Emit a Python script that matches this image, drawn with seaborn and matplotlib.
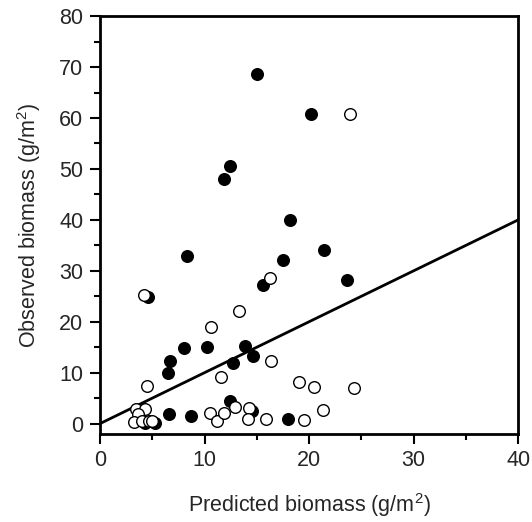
import matplotlib
matplotlib.use("Agg")
import matplotlib.pyplot as plt
import seaborn as sns
import pandas as pd
from matplotlib.ticker import MultipleLocator

# Filled circles
filled_pred = [15.05, 20.17, 12.48, 11.9, 18.14, 8.3, 21.4, 17.5, 15.6, 23.6, 4.6,
               8.05, 10.2, 13.9, 6.65, 6.55, 12.76, 14.6, 12.4, 14.5, 6.6, 8.75,
               18.0, 4.3, 5.3]
filled_obs = [68.7, 60.8, 50.5, 48.1, 40.0, 32.9, 34.1, 32.1, 27.3, 28.1, 24.9,
              14.9, 15.1, 15.3, 12.2, 10.0, 11.9, 13.2, 4.4, 2.4, 1.8, 1.4,
              0.85, 0.1, 0.1]

# Open circles
open_pred = [23.9, 16.26, 4.23, 13.3, 10.57, 11.6, 4.45, 16.4, 19.06, 20.5, 24.3,
             21.3, 12.9, 14.25, 14.16, 15.9, 19.5, 10.5, 11.17, 11.84, 3.47, 4.27,
             3.66, 3.27, 4.0, 4.7, 5.0]
open_obs = [60.8, 28.5, 25.2, 22.2, 18.9, 9.2, 7.3, 12.2, 8.25, 7.1, 6.9,
            2.7, 3.2, 3.1, 0.9, 1.0, 0.7, 2.1, 0.6, 2.0, 2.9, 2.9,
            1.8, 0.3, 0.6, 0.6, 0.45]

# 1:1 line
line_x = [0, 40]
line_y = [0, 40]

sns.set_style("white")
plt.rcParams['font.family'] = ['Liberation Sans', 'DejaVu Sans']

fig = plt.figure(figsize=(5.32, 5.22), dpi=100)
ax = fig.add_axes([0.188, 0.169, 0.786, 0.800])

sns.lineplot(x=line_x, y=line_y, ax=ax, color='black', linewidth=2.0, zorder=2)
sns.scatterplot(x=filled_pred, y=filled_obs, ax=ax, color='black', edgecolor='black',
                s=70, linewidth=1.0, zorder=3)
sns.scatterplot(x=open_pred, y=open_obs, ax=ax, color='white', edgecolor='black',
                s=70, linewidth=1.0, zorder=4)

ax.set_xlim(0, 40)
ax.set_ylim(-2, 80)
ax.xaxis.set_major_locator(MultipleLocator(10))
ax.xaxis.set_minor_locator(MultipleLocator(5))
ax.yaxis.set_major_locator(MultipleLocator(10))
ax.yaxis.set_minor_locator(MultipleLocator(5))
ax.tick_params(which='both', direction='out', left=True, bottom=True, top=False, right=False,
               width=1.5, color='black')
ax.tick_params(which='major', length=7, labelsize=15.5, pad=5)
ax.tick_params(which='minor', length=4)

for sp in ax.spines.values():
    sp.set_visible(True)
    sp.set_color('black')
    sp.set_linewidth(2.0)

ax.set_xlabel('Predicted biomass (g/m$\\mathregular{^2}$)', fontsize=15.5, labelpad=14)
ax.set_ylabel('Observed biomass (g/m$\\mathregular{^2}$)', fontsize=15.5, labelpad=12)

fig.savefig('out.png', dpi=100)
